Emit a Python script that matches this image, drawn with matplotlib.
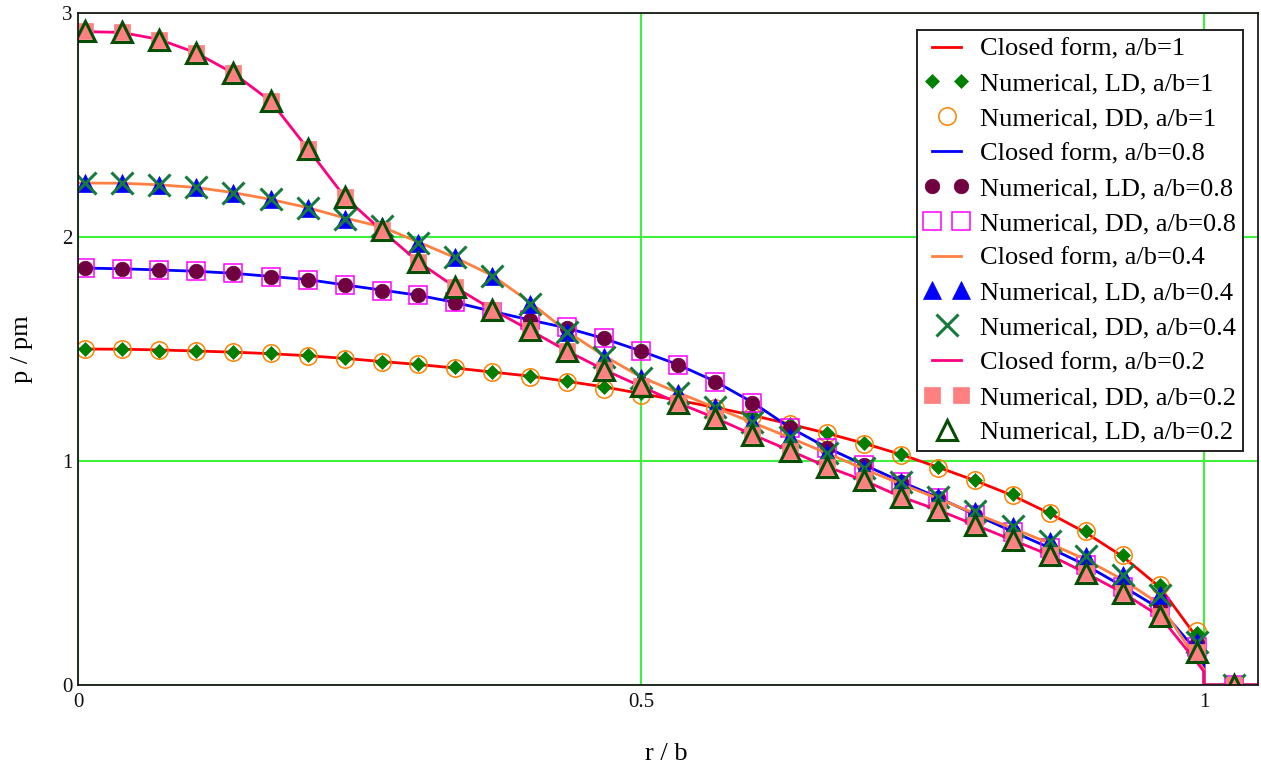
import matplotlib
matplotlib.use("Agg")
import matplotlib.pyplot as plt
from matplotlib.legend_handler import HandlerLine2D

# ---------------- data ----------------
# radial positions of the numerical nodes (r / b)
r_num = [0.006, 0.039, 0.072, 0.105, 0.138, 0.171, 0.204, 0.237, 0.270, 0.302,
         0.335, 0.368, 0.401, 0.434, 0.467, 0.500, 0.533, 0.566, 0.599, 0.632,
         0.665, 0.698, 0.731, 0.764, 0.797, 0.830, 0.863, 0.895, 0.928, 0.961,
         0.994, 1.027]

# radial positions of the closed-form curves (r / b)
r_line = [0.000, 0.039, 0.072, 0.105, 0.138, 0.171, 0.204, 0.237, 0.270, 0.302,
          0.335, 0.368, 0.401, 0.434, 0.467, 0.500, 0.533, 0.566, 0.599, 0.632,
          0.665, 0.698, 0.731, 0.764, 0.797, 0.830, 0.863, 0.895, 0.928, 0.961,
          0.994, 1.000, 1.000, 1.050]

# a/b = 1
cf_10 = [1.500, 1.499, 1.496, 1.491, 1.486, 1.479, 1.470, 1.458, 1.444, 1.431,
         1.415, 1.397, 1.379, 1.356, 1.331, 1.301, 1.271, 1.239, 1.204, 1.165,
         1.124, 1.079, 1.029, 0.972, 0.912, 0.846, 0.766, 0.680, 0.573, 0.436,
         0.210, 0.120, 0.000, 0.000]
ld_10 = [1.500, 1.500, 1.492, 1.490, 1.487, 1.481, 1.473, 1.458, 1.442, 1.434,
         1.418, 1.398, 1.381, 1.358, 1.332, 1.303, 1.272, 1.240, 1.205, 1.166,
         1.126, 1.082, 1.032, 0.975, 0.917, 0.852, 0.772, 0.688, 0.580, 0.446,
         0.232, 0.000]
dd_10 = [1.500, 1.499, 1.495, 1.489, 1.485, 1.480, 1.470, 1.457, 1.444, 1.431,
         1.414, 1.396, 1.376, 1.352, 1.322, 1.295, 1.268, 1.236, 1.201, 1.163,
         1.124, 1.078, 1.028, 0.970, 0.913, 0.848, 0.770, 0.686, 0.580, 0.448,
         0.240, 0.000]

# a/b = 0.8
cf_08 = [1.862, 1.858, 1.853, 1.847, 1.838, 1.824, 1.810, 1.786, 1.763, 1.740,
         1.708, 1.668, 1.630, 1.594, 1.547, 1.491, 1.430, 1.355, 1.262, 1.150,
         1.060, 0.983, 0.908, 0.836, 0.760, 0.685, 0.612, 0.535, 0.440, 0.340,
         0.150, 0.090, 0.000, 0.000]
ld_08 = [1.862, 1.855, 1.853, 1.848, 1.839, 1.822, 1.810, 1.784, 1.761, 1.741,
         1.707, 1.665, 1.629, 1.594, 1.547, 1.491, 1.429, 1.353, 1.259, 1.147,
         1.058, 0.982, 0.906, 0.835, 0.759, 0.683, 0.612, 0.536, 0.438, 0.348,
         0.188, 0.000]
dd_08 = [1.862, 1.856, 1.853, 1.847, 1.839, 1.821, 1.808, 1.784, 1.760, 1.741,
         1.708, 1.666, 1.630, 1.596, 1.549, 1.491, 1.429, 1.353, 1.259, 1.147,
         1.058, 0.982, 0.906, 0.835, 0.759, 0.683, 0.612, 0.536, 0.438, 0.348,
         0.170, 0.000]

# a/b = 0.4
cf_04 = [2.241, 2.240, 2.233, 2.221, 2.198, 2.168, 2.131, 2.085, 2.045, 1.978,
         1.908, 1.828, 1.710, 1.580, 1.470, 1.375, 1.305, 1.238, 1.172, 1.105,
         1.035, 0.965, 0.897, 0.832, 0.765, 0.700, 0.632, 0.560, 0.470, 0.360,
         0.110, 0.070, 0.000, 0.000]
ld_04 = [2.241, 2.241, 2.234, 2.222, 2.198, 2.168, 2.129, 2.082, 2.050, 1.975,
         1.910, 1.826, 1.702, 1.574, 1.466, 1.372, 1.304, 1.240, 1.174, 1.107,
         1.036, 0.970, 0.905, 0.840, 0.775, 0.710, 0.645, 0.575, 0.490, 0.400,
         0.190, 0.000]
dd_04 = [2.241, 2.241, 2.234, 2.222, 2.198, 2.168, 2.129, 2.082, 2.050, 1.975,
         1.910, 1.826, 1.702, 1.574, 1.466, 1.372, 1.304, 1.240, 1.174, 1.107,
         1.036, 0.970, 0.905, 0.840, 0.775, 0.710, 0.645, 0.575, 0.490, 0.400,
         0.190, 0.000]

# a/b = 0.2
cf_02 = [2.918, 2.913, 2.882, 2.822, 2.731, 2.607, 2.395, 2.178, 2.028, 1.890,
         1.776, 1.676, 1.585, 1.492, 1.408, 1.333, 1.259, 1.192, 1.118, 1.047,
         0.975, 0.913, 0.840, 0.781, 0.714, 0.647, 0.580, 0.500, 0.411, 0.306,
         0.100, 0.060, 0.000, 0.000]
dd_02 = [2.918, 2.913, 2.880, 2.821, 2.731, 2.606, 2.394, 2.180, 2.031, 1.888,
         1.775, 1.674, 1.585, 1.490, 1.406, 1.333, 1.259, 1.192, 1.116, 1.045,
         0.973, 0.915, 0.839, 0.781, 0.714, 0.647, 0.580, 0.500, 0.411, 0.308,
         0.147, 0.000]
ld_02 = [2.918, 2.913, 2.880, 2.821, 2.731, 2.606, 2.394, 2.180, 2.031, 1.888,
         1.775, 1.674, 1.585, 1.490, 1.406, 1.333, 1.259, 1.192, 1.116, 1.045,
         0.973, 0.915, 0.839, 0.781, 0.714, 0.647, 0.580, 0.500, 0.411, 0.308,
         0.147, 0.000]

x_ticks = [0, 0.5, 1]
x_ticklabels = ["0", "0.5", "1"]
y_ticks = [0, 1, 2, 3]
y_ticklabels = ["0", "1", "2", "3"]

# ---------------- figure ----------------
plt.rcParams['font.family'] = ['Liberation Serif', 'DejaVu Serif']

W, H = 1261, 769
fig = plt.figure(figsize=(W / 100, H / 100), dpi=100)
ax = fig.add_axes([78 / W, 1 - 685 / H, 1180 / W, 672 / H])

ax.plot(r_line, cf_10, color='#ff0000', lw=2.0, label='Closed form, a/b=1')
h_d = ax.plot(r_num, ld_10, ls='none', marker='D', ms=7.5, mfc='#007f00', mec='#007f00',
              mew=0.5, label='Numerical, LD, a/b=1')[0]
h_o = ax.plot(r_num, dd_10, ls='none', marker='o', ms=12.5, mfc='none', mec='#ff8000',
              mew=1.1, label='Numerical, DD, a/b=1')[0]
ax.plot(r_line, cf_08, color='#0000ff', lw=2.0, label='Closed form, a/b=0.8')
ax.plot(r_num, ld_08, ls='none', marker='o', ms=10.5, mfc='#700040', mec='#700040',
        mew=0.5, label='Numerical, LD, a/b=0.8')
ax.plot(r_num, dd_08, ls='none', marker='s', ms=12.5, mfc='none', mec='#ff00ff',
        mew=1.1, label='Numerical, DD, a/b=0.8')
ax.plot(r_line, cf_04, color='#ff8040', lw=2.0, label='Closed form, a/b=0.4')
ax.plot(r_num, ld_04, ls='none', marker='^', ms=13, mfc='#0000ff', mec='#0000ff',
        mew=0.5, label='Numerical, LD, a/b=0.4')
h_x = ax.plot(r_num, dd_04, ls='none', marker='x', ms=16, mec='#157a3c', mew=2.2,
              label='Numerical, DD, a/b=0.4')[0]
ax.plot(r_line, cf_02, color='#ff0080', lw=2.0, label='Closed form, a/b=0.2')
ax.plot(r_num, dd_02, ls='none', marker='s', ms=11.5, mfc='#ff8080', mec='#ff8080',
        mew=0.5, label='Numerical, DD, a/b=0.2')
h_t = ax.plot(r_num, ld_02, ls='none', marker='^', ms=15, mfc='none', mec='#064d06',
              mew=2.2, label='Numerical, LD, a/b=0.2')[0]

ax.set_xlim(0, 1.048)
ax.set_ylim(0, 3)
ax.set_xticks(x_ticks)
ax.set_xticklabels(x_ticklabels)
ax.set_yticks(y_ticks)
ax.set_yticklabels(y_ticklabels)
ax.tick_params(axis='both', length=0, labelsize=15, colors='#111111')
ax.tick_params(axis='x', pad=6)
ax.tick_params(axis='y', pad=4)
ax.set_axisbelow(True)
ax.grid(True, color='#3ff03f', lw=1.5)
for s in ax.spines.values():
    s.set_linewidth(1.3)
    s.set_color('#1a1a1a')

fig.text(22 / W, 1 - 349 / H, 'p / pm', rotation=90, ha='center', va='center', fontsize=19)
fig.text(666 / W, 1 - 754 / H, 'r / b', ha='center', va='center', fontsize=19)

hm = {h_o: HandlerLine2D(numpoints=1), h_x: HandlerLine2D(numpoints=1),
      h_t: HandlerLine2D(numpoints=1)}
leg = ax.legend(loc='upper left', bbox_to_anchor=(917 / W, 1 - 30 / H),
                bbox_transform=fig.transFigure, fontsize=19, frameon=True,
                fancybox=False, edgecolor='#222222', framealpha=1,
                borderaxespad=0, borderpad=0.28, labelspacing=0.43,
                handlelength=1.7, handletextpad=0.4, numpoints=2, handler_map=hm)
leg.get_frame().set_linewidth(1.4)

fig.savefig('out.png', dpi=100)
